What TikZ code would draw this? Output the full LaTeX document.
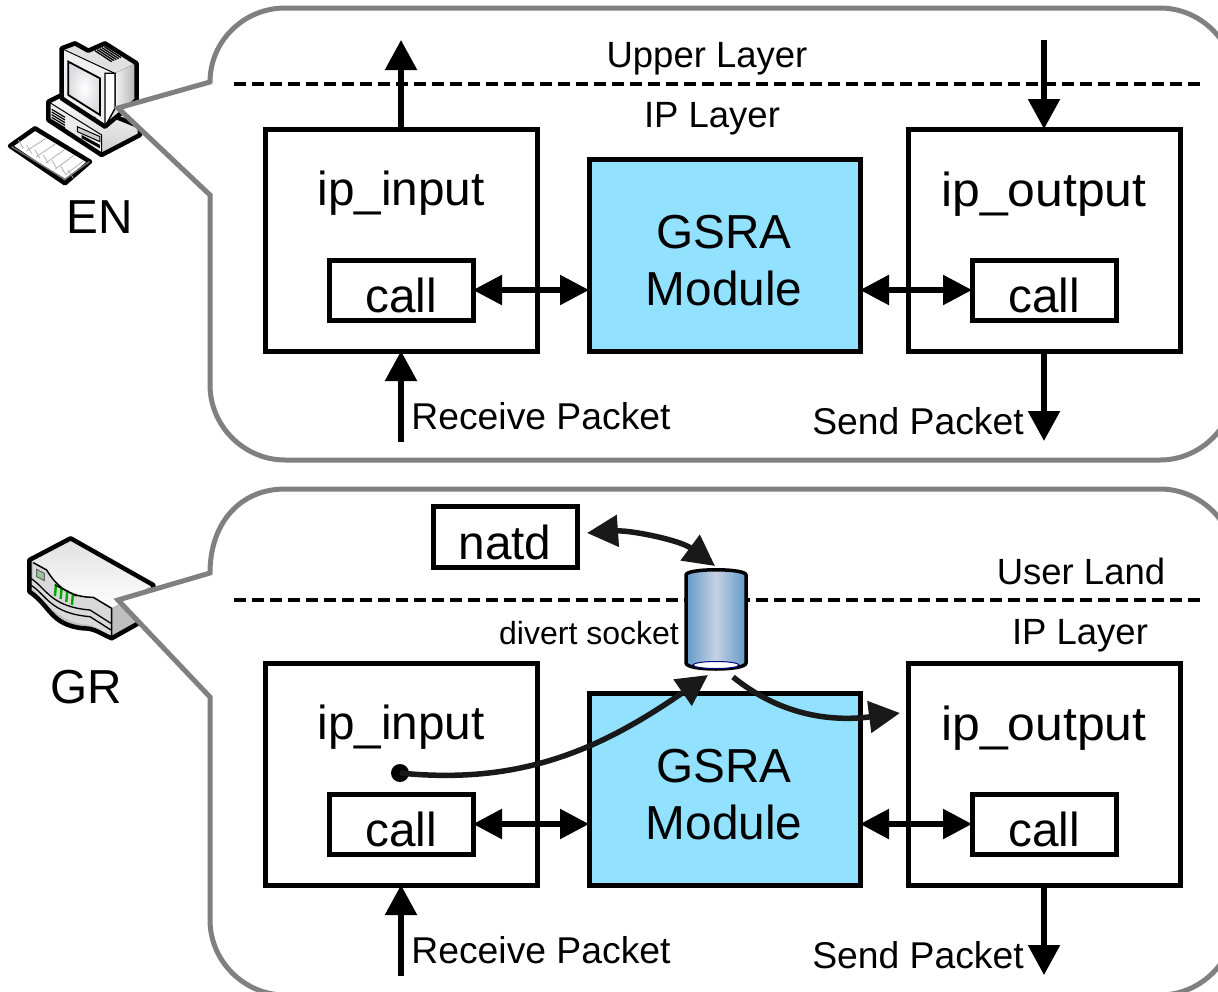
\documentclass[tikz,border=0pt]{standalone}
\usepackage{fontspec}
\setmainfont{Liberation Sans}
\usetikzlibrary{arrows.meta,calc}
\definecolor{bubblegray}{HTML}{808080}
\definecolor{gsrablue}{HTML}{91E1FF}
\definecolor{cylblue}{HTML}{6299C8}
\definecolor{cylpale}{HTML}{C6D1E4}
\tikzset{
  bubble/.style={draw=bubblegray,line width=5pt,fill=white,line join=miter},
  boxw/.style={draw=black,line width=5pt,fill=white,inner sep=0pt,outer sep=0pt,anchor=north west},
  boxg/.style={boxw,fill=gsrablue},
  arrowone/.style={draw=black,line width=5.5pt,-{Triangle[length=30pt,width=31pt]}},
  arrowtwo/.style={draw=black,line width=5.5pt,{Triangle[length=29pt,width=29pt]}-{Triangle[length=29pt,width=29pt]}},
  curvearrow/.style={draw=black!90,line width=5.5pt,-{Triangle[length=31pt,width=31pt]}},
  curvearrowtwo/.style={draw=black!90,line width=5.5pt,{Triangle[length=31pt,width=31pt]}-{Triangle[length=31pt,width=31pt]}},
  divider/.style={draw=black,line width=3.5pt,dash pattern=on 12pt off 6pt},
  big/.style={anchor=base,inner sep=0pt,font=\fontsize{47.7pt}{47.7pt}\selectfont},
  wide/.style={big,xscale=1.045},
  mid/.style={inner sep=0pt,font=\fontsize{36.5pt}{36.5pt}\selectfont},
  midw/.style={inner sep=0pt,font=\fontsize{37.3pt}{37.3pt}\selectfont},
  small/.style={inner sep=0pt,font=\fontsize{32pt}{32pt}\selectfont},
  icon/.style={draw=black,line width=4.5pt,line join=round},
}
\newcommand{\wbox}[6]{\node[#1,minimum width=#5 pt-#3 pt,minimum height=#6 pt-#4 pt] (#2) at (#3,#4) {};}
\begin{document}
\begin{tikzpicture}[x=1pt,y=-1pt]
\clip (0,0) rectangle (1218,991);
\fill[white] (0,0) rectangle (1218,991);

% computer
\begin{scope}[yshift=-20pt,x=.3333pt,y=-.3333pt]
 \fill[top color=white,bottom color=black!20] (145,245) -- (185,225) -- (420,320) -- (420,345) -- (305,405) -- (145,300) -- cycle;
 \fill[black!8,draw=black,line width=1pt] (145,245) -- (305,345) -- (305,405) -- (145,300) -- cycle;
 \foreach \i in {0,1,2,3,4} \draw[black,line width=1.2pt] (155,{268+\i*8}) -- (195,{292+\i*8});
 \fill[black!20,draw=black,line width=1pt] (232,320) -- (300,350) -- (300,365) -- (232,335) -- cycle;
 \fill[black] (245,355) -- (300,385) -- (300,375) -- (245,345) -- cycle;
 \path[icon] (145,245) -- (185,225) -- (420,320) -- (420,345) -- (305,405) -- (145,300) -- cycle;
 \fill[black!12] (185,85) -- (225,70) -- (265,92) -- (315,70) -- (410,130) -- (410,240) -- (315,320) -- (185,235) -- cycle;
 \fill[left color=black!5,right color=black!30] (345,160) -- (408,130) -- (408,240) -- (345,265) -- cycle;
 \fill[black!6,draw=black,line width=1.3pt] (185,85) -- (345,160) -- (345,265) -- (315,320) -- (185,235) -- cycle;
 \fill[white,draw=black,line width=1.3pt] (315,160) -- (345,160) -- (345,265) -- (315,320) -- cycle;
 \fill[black!12] (188,85) -- (225,72) -- (345,150) -- (345,158) -- cycle;
 \foreach \i in {0,1,2,3,4} \draw[black,line width=1.3pt] ({285+\i*7},{92-\i*3}) -- ({335+\i*7},{125-\i*3});
 \fill[inner color=white,outer color=blue!14!black!14,draw=black,line width=1.8pt] (205,125) -- (300,175) -- (300,285) -- (205,225) -- cycle;
 \fill[green!60!black] (284,294) circle (5);
 \path[icon] (185,85) -- (225,70) -- (265,92) -- (315,70) -- (410,130) -- (410,240) -- (315,320) -- (185,235) -- cycle;
 \fill[white,icon] (30,378) -- (105,325) -- (270,425) -- (195,490) -- cycle;
 \foreach \i in {1,2,3,4,5} \draw[black!30,line width=.8pt] ({50+\i*29},{375+\i*18}) -- ({110+\i*28},{338+\i*17});
 \foreach \i in {0,1,2,3,4,5,6} \draw[black!30,line width=.8pt] ({55+\i*25},{360+\i*15}) -- ({70+\i*25},{385+\i*15});
 \draw[black!55,line width=1.4pt] (35,380) -- (195,478) -- (268,425);
\end{scope}

% router
\begin{scope}[yshift=-510pt,x=.3333pt,y=-.3333pt]
 \fill[black!25] (88,150) -- (88,245) .. controls (150,285) and (150,345) .. (250,355) .. controls (285,355) and (300,370) .. (335,385) -- (460,315) -- (460,225) -- (212,85) -- cycle;
 \fill[top color=black!12,bottom color=white] (88,150) -- (212,85) -- (460,225) -- (335,295) -- (280,262) .. controls (210,262) and (170,230) .. (140,180) -- (105,160) -- cycle;
 \fill[black!15] (100,158) -- (140,180) .. controls (170,230) and (210,262) .. (280,262) -- (333,295) -- (333,380) -- (275,345) .. controls (180,340) and (150,290) .. (96,235) -- cycle;
 \draw[black,line width=1.5pt] (100,158) -- (140,180) .. controls (170,230) and (210,262) .. (280,262) -- (335,295) -- (335,385);
 \draw[black,line width=1.3pt] (92,205) .. controls (140,235) and (150,290) .. (270,300) -- (333,340);
 \draw[black,line width=1.3pt] (92,225) .. controls (140,255) and (150,310) .. (270,320) -- (333,360);
 \fill[green!40!black!40,draw=black!60,line width=1pt] (110,178) -- (133,190) -- (133,212) -- (110,200) -- cycle;
 \foreach \i in {0,1,2,3} \draw[green!65!black,line width=2.4pt] ({168+\i*17},{222+\i*9}) -- ({165+\i*17},{258+\i*9});
 \draw[black,line width=1.3pt] (165,225) -- (230,258);
 \path[icon] (88,150) -- (88,245) .. controls (150,285) and (150,345) .. (250,355) .. controls (285,355) and (300,370) .. (335,385) -- (460,315) -- (460,225) -- (212,85) -- cycle;
\end{scope}

% callouts
\path[bubble] (285,8) -- (1160,8) .. controls (1201,8) and (1235,42) .. (1235,83) -- (1235,385) .. controls (1235,426) and (1201,460) .. (1160,460) -- (285,460) .. controls (244,460) and (210,426) .. (210,385) -- (210,195) -- (118,108) -- (210,82) .. controls (210,41) and (244,8) .. (285,8) -- cycle;
\path[bubble] (285,489) -- (1160,489) .. controls (1201,489) and (1235,523) .. (1235,564) -- (1235,920) .. controls (1235,961) and (1201,995) .. (1160,995) -- (285,995) .. controls (244,995) and (210,961) .. (210,920) -- (210,697) -- (118,600) -- (210,573) .. controls (210,523) and (240,489) .. (285,489) -- cycle;

% dividers
\path[divider] (234,84) -- (1202,84);
\path[divider] (234,600) -- (1202,600);

% upper panel boxes
\wbox{boxw}{iA}{265}{129}{537}{351}
\wbox{boxw}{cA}{329}{260}{473}{320}
\wbox{boxg}{gA}{589}{159}{860}{351}
\wbox{boxw}{oA}{908}{129}{1180}{351}
\wbox{boxw}{dA}{972}{260}{1116}{320}
% lower panel boxes
\wbox{boxw}{iB}{265}{663}{537}{885}
\wbox{boxw}{cB}{329}{794}{473}{854}
\wbox{boxg}{gB}{589}{693}{860}{885}
\wbox{boxw}{oB}{908}{663}{1180}{885}
\wbox{boxw}{dB}{972}{794}{1116}{854}
\wbox{boxw}{natd}{433}{506}{577}{567}

% free ends
\coordinate (upA) at (401,40);
\coordinate (downA) at (1044,40);
\coordinate (recvA) at (401,442);
\coordinate (sendA) at (1044,441);
\coordinate (recvB) at (401,976);
\coordinate (sendB) at (1044,975);

% texts upper
\node[mid] (t1) at (707,59) {Upper Layer};
\node[mid] (t2) at (712,119) {IP Layer};
\node[big] (t3) at (401,205) {ip\_input};
\node[big] (t4) at (401,312) {call};
\node[big] (t5) at (724,248) {GSRA};
\node[big] (t6) at (724,305) {Module};
\node[wide] (t7) at (1044,206) {ip\_output};
\node[big] (t8) at (1044,312) {call};
\node[midw] (t9) at (541,416) {Receive Packet};
\node[midw] (t10) at (918,421) {Send Packet};
\node[big] (t11) at (100,233) {EN};
% texts lower
\node[mid] (u1) at (1081,571) {User Land};
\node[mid] (u2) at (1080,636) {IP Layer};
\node[small] (u3) at (589,633) {divert socket};
\node[big] (u4) at (505,559) {natd};
\node[big] (u5) at (401,739) {ip\_input};
\node[big] (u6) at (401,846) {call};
\node[big] (u7) at (724,782) {GSRA};
\node[big] (u8) at (724,839) {Module};
\node[wide] (u9) at (1044,740) {ip\_output};
\node[big] (u10) at (1044,846) {call};
\node[midw] (u11) at (541,950) {Receive Packet};
\node[midw] (u12) at (918,955) {Send Packet};
\node[big] (u13) at (86,703) {GR};

% connectors upper
\path[arrowone] (iA.north) -- (upA);
\path[arrowone] (downA) -- (oA.north);
\path[arrowone] (recvA) -- (iA.south);
\path[arrowone] (oA.south) -- (sendA);
\path[arrowtwo] (cA.east) -- (cA.east -| gA.west);
\path[arrowtwo] (dA.west -| gA.east) -- (dA.west);
% connectors lower
\path[arrowone] (recvB) -- (iB.south);
\path[arrowone] (oB.south) -- (sendB);
\path[arrowtwo] (cB.east) -- (cB.east -| gB.west);
\path[arrowtwo] (dB.west -| gB.east) -- (dB.west);

% divert socket
\node[minimum width=60pt,minimum height=98pt,inner sep=0pt] (sock) at (716,619) {};
\path[left color=cylblue,right color=cylblue,middle color=cylpale] (686,575) .. controls (686,568) and (746,568) .. (746,575) -- (746,663) .. controls (746,671) and (686,671) .. (686,663) -- cycle;
\draw[black,line width=3.5pt] (686,575) .. controls (686,568) and (746,568) .. (746,575) -- (746,663) .. controls (746,671) and (686,671) .. (686,663) -- cycle;
\draw[fill=white,draw=blue!50!black,line width=1pt] (716,665) ellipse[x radius=23,y radius=3.5];

\coordinate (natdEnd) at (587,533);
\coordinate (sockTop) at (715,566);
\coordinate (sockIn) at (708,675);
\coordinate (sockOut) at (733,677);
\coordinate (ipoutIn) at (900,713);
\node[circle,fill=black,minimum size=18pt,inner sep=0pt] (dot) at (400,773) {};
\path[curvearrowtwo] (natdEnd) .. controls (630,530) and (680,540) .. (sockTop);
\path[curvearrow] (dot.center) .. controls (520,785) and (600,750) .. (sockIn);
\path[curvearrow] (sockOut) .. controls (780,715) and (830,722) .. (ipoutIn);
\end{tikzpicture}
\end{document}
